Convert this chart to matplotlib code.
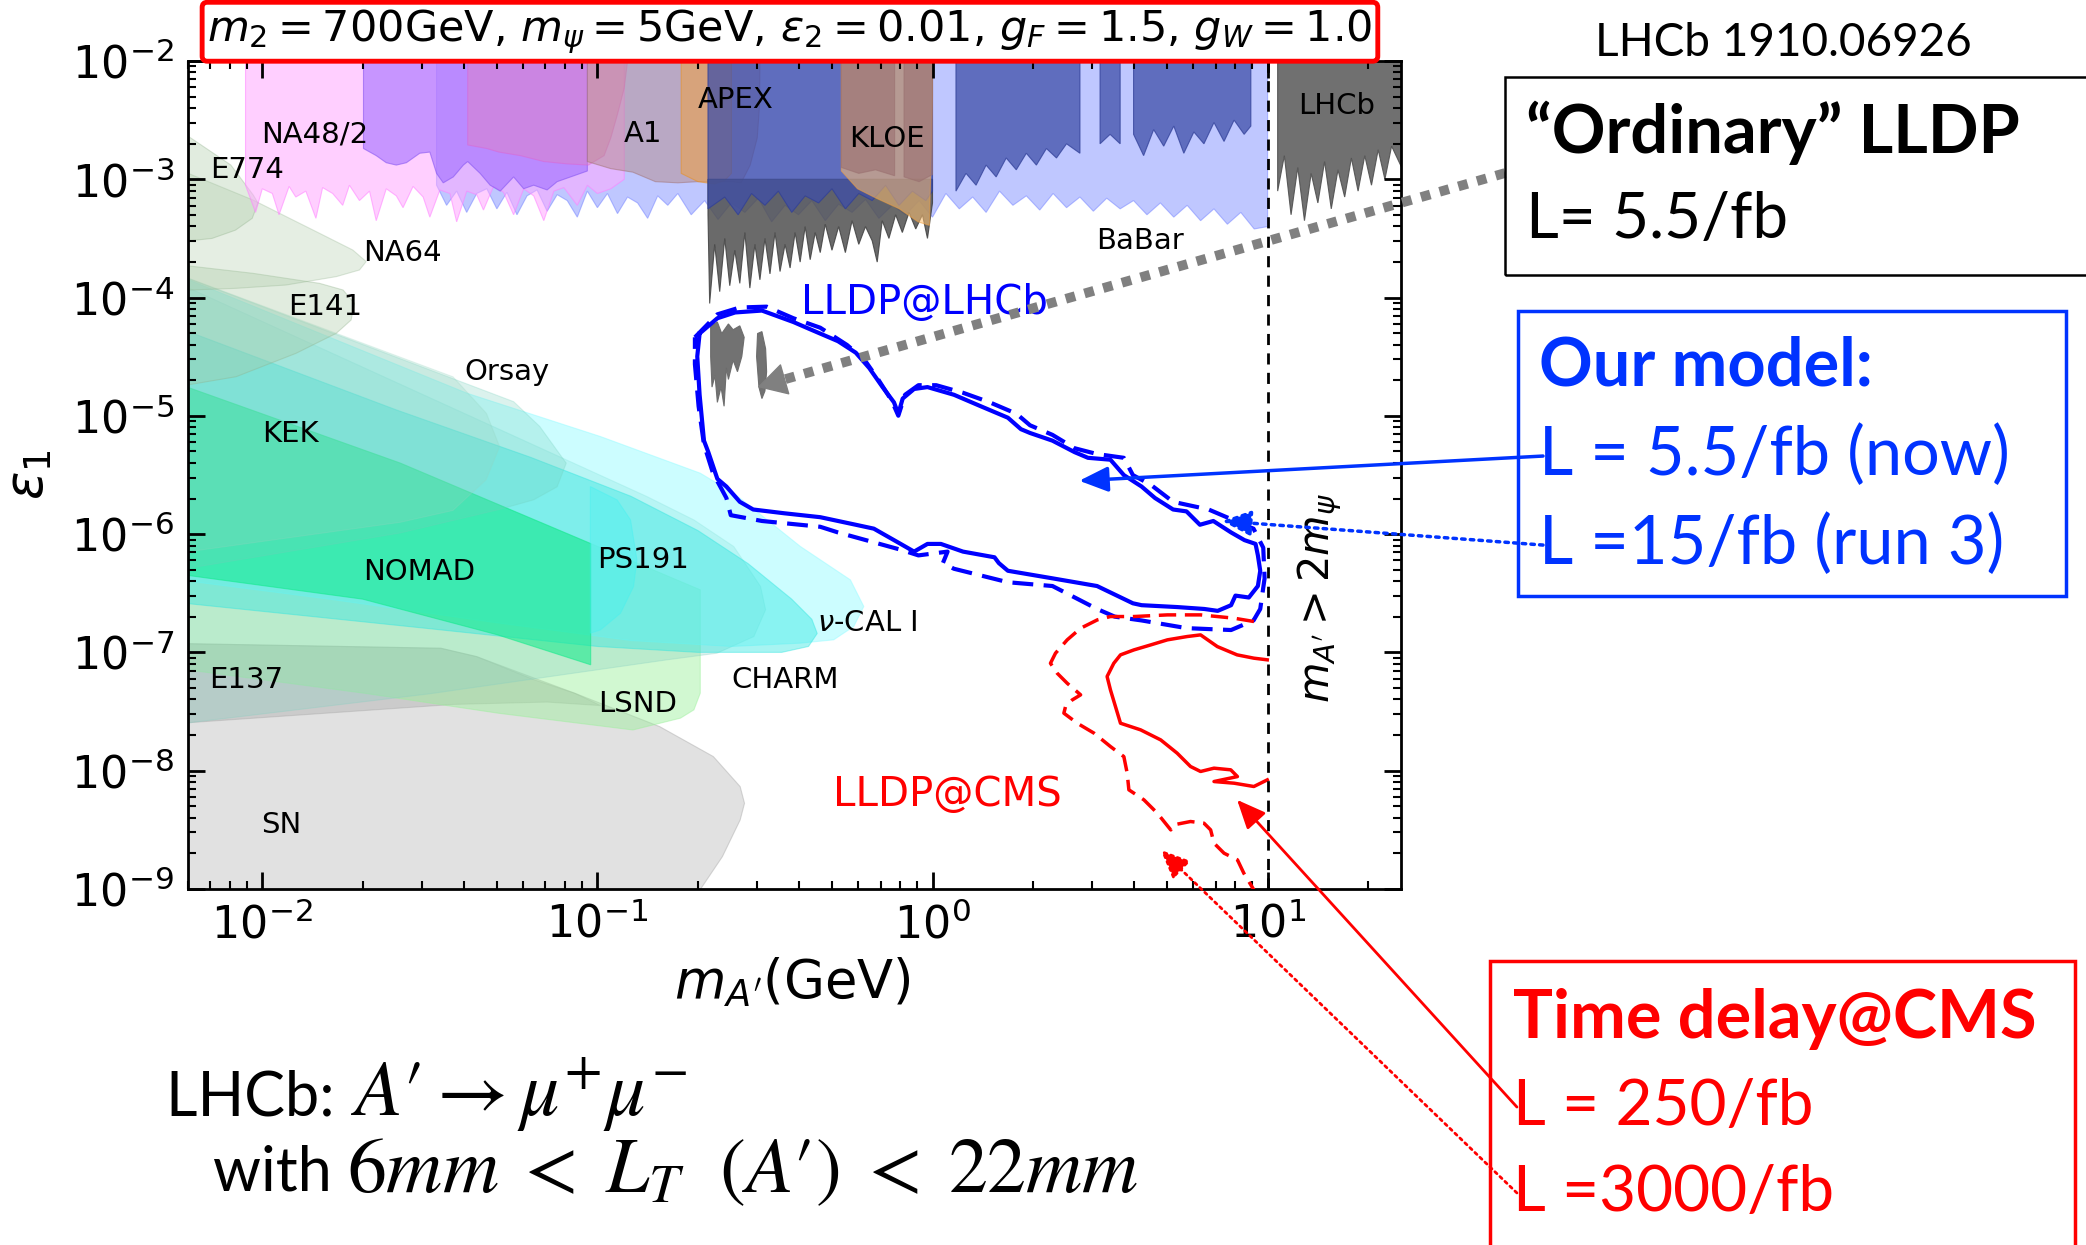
import matplotlib

matplotlib.use("Agg")

import matplotlib.pyplot as plt  # noqa: E402
import numpy as np  # noqa: E402
from matplotlib.patches import Rectangle  # noqa: E402

plt.rcParams["font.family"] = ["DejaVu Sans"]
plt.rcParams["mathtext.fontset"] = "dejavusans"

# every shape is a list of (log10 m_A'/GeV, log10 eps_1)
TOP = -1.9

# ---- e+e- / fixed target limits (filled from the top of the frame) ----
na48_bottom = [(-2.05, -3.05), (-2.02, -3.28), (-2.00, -3.08), (-1.97, -3.12), (-1.95, -3.30),
               (-1.92, -3.06), (-1.90, -3.15), (-1.87, -3.10), (-1.84, -3.33), (-1.82, -3.07),
               (-1.79, -3.12), (-1.76, -3.22), (-1.74, -3.05), (-1.71, -3.18), (-1.68, -3.10),
               (-1.66, -3.35), (-1.63, -3.08), (-1.60, -3.14), (-1.58, -3.24), (-1.55, -3.06),
               (-1.52, -3.15), (-1.50, -3.32), (-1.47, -3.09), (-1.44, -3.12), (-1.42, -3.36),
               (-1.39, -3.10), (-1.36, -3.13), (-1.34, -3.26), (-1.31, -3.06), (-1.28, -3.11),
               (-1.25, -3.30), (-1.22, -3.08), (-1.19, -3.14), (-1.16, -3.35), (-1.13, -3.10),
               (-1.10, -3.07), (-1.06, -3.22), (-1.03, -3.05), (-1.00, -3.12), (-0.96, -3.08),
               (-0.92, -3.00)]
purple_bottom = [(-1.698, -2.74), (-1.66, -2.80), (-1.63, -2.86), (-1.60, -2.88), (-1.57, -2.86),
                 (-1.53, -2.78), (-1.50, -2.77), (-1.48, -2.95), (-1.46, -3.03), (-1.43, -2.98),
                 (-1.40, -2.88), (-1.387, -2.85), (-1.35, -2.95), (-1.32, -3.05), (-1.29, -3.10),
                 (-1.25, -2.98), (-1.22, -3.08), (-1.19, -3.05), (-1.15, -3.09), (-1.12, -3.02),
                 (-1.08, -2.98), (-1.03, -2.93)]
orchid_bottom = [(-1.387, -2.71), (-1.33, -2.74), (-1.294, -2.77), (-1.23, -2.80), (-1.16, -2.85),
                 (-1.09, -2.87), (-1.027, -2.88), (-0.98, -2.80), (-0.96, -2.65), (-0.94, -2.45),
                 (-0.92, -2.23), (-0.91, -2.00)]
a1_bottom = [(-1.03, -2.85), (-0.96, -2.91), (-0.894, -2.94), (-0.827, -3.02), (-0.76, -3.03),
             (-0.70, -3.02), (-0.64, -3.02), (-0.60, -3.02), (-0.571, -3.03), (-0.544, -2.88),
             (-0.523, -2.65), (-0.516, -2.37), (-0.515, -2.00)]
apex_bottom = [(-0.75, -2.95), (-0.70, -3.02), (-0.65, -3.04), (-0.62, -3.01), (-0.60, -2.95),
               (-0.60, -2.00)]
kloe_bottom = [(-0.272, -2.93), (-0.224, -3.08), (-0.168, -3.16), (-0.099, -3.25), (-0.043, -3.36),
               (-0.009, -3.39), (0.0, -2.30)]
kloe_strip1 = [(-0.272, -2.90), (-0.22, -2.95), (-0.17, -2.92), (-0.113, -2.97)]
kloe_strip2 = [(-0.085, -2.98), (-0.04, -3.02), (0.0, -2.96)]
babar_light_bottom = [(-1.48, -3.05), (-1.45, -3.22), (-1.42, -3.10), (-1.39, -3.28), (-1.36, -3.12),
                      (-1.33, -3.08), (-1.30, -3.25), (-1.27, -3.11), (-1.24, -3.30), (-1.21, -3.14),
                      (-1.18, -3.09), (-1.15, -3.27), (-1.12, -3.13), (-1.09, -3.18), (-1.06, -3.32),
                      (-1.03, -3.10), (-1.00, -3.24), (-0.97, -3.12), (-0.94, -3.29), (-0.91, -3.15),
                      (-0.88, -3.20), (-0.85, -3.33), (-0.82, -3.14), (-0.79, -3.22), (-0.76, -3.12),
                      (-0.72, -3.30), (-0.68, -3.18), (-0.64, -3.34), (-0.60, -3.20), (-0.56, -3.28),
                      (-0.52, -3.16), (-0.48, -3.36), (-0.44, -3.22), (-0.40, -3.30), (-0.36, -3.18),
                      (-0.32, -3.35), (-0.28, -3.21), (-0.24, -3.28), (-0.20, -3.17), (-0.16, -3.33),
                      (-0.12, -3.22), (-0.08, -3.30), (-0.04, -3.18), (0.00, -3.32), (0.04, -3.12),
                      (0.08, -3.25), (0.12, -3.15), (0.16, -3.28), (0.20, -3.10), (0.24, -3.22),
                      (0.28, -3.14), (0.32, -3.26), (0.36, -3.12), (0.40, -3.24), (0.44, -3.15),
                      (0.48, -3.27), (0.52, -3.16), (0.56, -3.25), (0.60, -3.18), (0.64, -3.30),
                      (0.68, -3.20), (0.72, -3.32), (0.76, -3.22), (0.80, -3.35), (0.84, -3.25),
                      (0.88, -3.38), (0.92, -3.28), (0.96, -3.42), (1.00, -3.40)]
babar_dark_segments = [
    [(-0.67, -3.25), (-0.62, -3.15), (-0.58, -3.30), (-0.54, -3.12), (-0.50, -3.22), (-0.46, -3.10),
     (-0.42, -3.28), (-0.38, -3.14), (-0.34, -3.20), (-0.30, -3.08), (-0.26, -3.25), (-0.22, -3.12),
     (-0.18, -3.18), (-0.14, -3.05), (-0.10, -3.22), (-0.06, -3.10), (-0.02, -3.18), (0.0, -3.10)],
    [(0.07, -3.10), (0.10, -2.95), (0.13, -3.05), (0.16, -2.88), (0.19, -2.98), (0.22, -2.82),
     (0.25, -2.92), (0.28, -2.78), (0.31, -2.88), (0.34, -2.74), (0.37, -2.82), (0.40, -2.70),
     (0.44, -2.78)],
    [(0.50, -2.70), (0.53, -2.62), (0.56, -2.70)],
    [(0.60, -2.62), (0.63, -2.80), (0.66, -2.58), (0.69, -2.72), (0.72, -2.55), (0.75, -2.78),
     (0.78, -2.60), (0.81, -2.70), (0.84, -2.52), (0.87, -2.68), (0.90, -2.50), (0.93, -2.62),
     (0.95, -2.55)],
]
prompt_bottom = [(-0.67, -3.30), (-0.665, -4.05), (-0.65, -3.55), (-0.635, -3.95), (-0.62, -3.50),
                 (-0.605, -3.90), (-0.59, -3.60), (-0.575, -3.88), (-0.56, -3.45), (-0.545, -3.92),
                 (-0.53, -3.55), (-0.515, -3.85), (-0.50, -3.50), (-0.485, -3.80), (-0.47, -3.45),
                 (-0.455, -3.78), (-0.44, -3.55), (-0.425, -3.75), (-0.41, -3.45), (-0.395, -3.70),
                 (-0.38, -3.40), (-0.365, -3.68), (-0.35, -3.45), (-0.335, -3.62), (-0.32, -3.38),
                 (-0.30, -3.60), (-0.28, -3.40), (-0.26, -3.62), (-0.24, -3.35), (-0.22, -3.55),
                 (-0.20, -3.40), (-0.18, -3.52), (-0.165, -3.70), (-0.15, -3.35), (-0.13, -3.50),
                 (-0.11, -3.30), (-0.09, -3.45), (-0.07, -3.28), (-0.05, -3.42), (-0.03, -3.30),
                 (-0.015, -3.50), (0.0, -3.20)]
lhcb_bottom = [(1.03, -3.10), (1.05, -2.80), (1.07, -3.30), (1.09, -2.90), (1.11, -3.35),
               (1.13, -2.95), (1.15, -3.20), (1.17, -2.85), (1.19, -3.25), (1.21, -2.92),
               (1.23, -3.15), (1.25, -2.82), (1.27, -3.10), (1.29, -2.80), (1.31, -3.05),
               (1.33, -2.75), (1.35, -3.00), (1.37, -2.72), (1.40, -2.90)]
displaced_blob1 = [(-0.662, -4.239), (-0.642, -4.207), (-0.629, -4.304), (-0.609, -4.223),
                   (-0.595, -4.272), (-0.575, -4.239), (-0.562, -4.336), (-0.569, -4.498),
                   (-0.582, -4.627), (-0.595, -4.530), (-0.609, -4.692), (-0.615, -4.595),
                   (-0.622, -4.919), (-0.631, -4.757), (-0.642, -4.886), (-0.649, -4.660),
                   (-0.658, -4.757), (-0.662, -4.498)]
displaced_blob2 = [(-0.522, -4.304), (-0.509, -4.288), (-0.498, -4.433), (-0.495, -4.627),
                   (-0.500, -4.790), (-0.509, -4.854), (-0.518, -4.757), (-0.525, -4.498)]

# ---- beam dump / astrophysics limits ----
e774 = [(-2.35, -2.40), (-2.227, -2.625), (-2.094, -2.879), (-2.027, -3.133), (-2.013, -3.20),
        (-2.03, -3.33), (-2.08, -3.43), (-2.15, -3.50), (-2.35, -3.56)]
na64 = [(-2.35, -2.80), (-2.028, -3.175), (-1.829, -3.457), (-1.730, -3.598), (-1.690, -3.696),
        (-1.710, -3.767), (-1.779, -3.823), (-1.929, -3.894), (-2.078, -3.922), (-2.35, -3.95)]
e141 = [(-2.35, -3.69), (-2.028, -3.795), (-1.829, -3.880), (-1.759, -3.936), (-1.725, -4.049),
        (-1.735, -4.190), (-1.779, -4.302), (-1.899, -4.471), (-2.078, -4.669), (-2.35, -4.80)]
orsay = [(-2.35, -3.70), (-1.431, -4.67), (-1.331, -4.98), (-1.292, -5.26), (-1.332, -5.54),
         (-1.431, -5.80), (-1.588, -5.90), (-2.35, -6.20)]
kek = [(-2.35, -3.70), (-1.25, -4.88), (-1.172, -5.09), (-1.093, -5.40), (-1.12, -5.60),
       (-1.19, -5.71), (-1.29, -5.79), (-1.588, -5.99), (-2.35, -6.35)]
nucal = [(-2.35, -3.70), (-1.389, -4.809), (-0.991, -5.175), (-0.693, -5.485), (-0.593, -5.654),
         (-0.394, -6.105), (-0.245, -6.387), (-0.205, -6.612), (-0.235, -6.781), (-0.295, -6.894),
         (-0.394, -6.922), (-0.60, -6.95), (-0.90, -6.90), (-1.30, -6.75), (-1.80, -6.55),
         (-2.35, -6.35)]
charm = [(-2.35, -3.75), (-0.854, -5.68), (-0.712, -5.88), (-0.593, -6.105), (-0.513, -6.443),
         (-0.498, -6.64), (-0.533, -6.866), (-0.643, -7.007), (-0.792, -7.063), (-1.50, -7.35),
         (-2.35, -7.64)]
aqua = [(-2.35, -4.15), (-1.60, -4.95), (-1.20, -5.35), (-0.90, -5.68), (-0.70, -5.97),
        (-0.55, -6.25), (-0.42, -6.55), (-0.36, -6.72), (-0.344, -6.84), (-0.37, -6.95),
        (-0.45, -7.00), (-0.70, -7.00), (-1.00, -6.95), (-1.50, -6.80), (-2.35, -6.55)]
ps191 = [(-1.021, -5.598), (-0.941, -5.711), (-0.901, -5.88), (-0.882, -6.218), (-0.892, -6.443),
         (-0.931, -6.669), (-0.991, -6.81), (-1.021, -6.838)]
nomad = [(-2.35, -4.63), (-1.588, -5.40), (-1.02, -6.08), (-1.02, -7.105), (-1.30, -6.85),
         (-1.70, -6.55), (-2.35, -6.30)]
lsnd = [(-2.35, -4.63), (-1.588, -5.40), (-0.693, -6.471), (-0.693, -7.345), (-0.712, -7.486),
        (-0.752, -7.556), (-0.894, -7.656), (-1.294, -7.515), (-1.694, -7.346), (-2.35, -7.10)]
e137 = [(-2.35, -6.92), (-1.467, -6.965), (-1.36, -7.036), (-1.19, -7.23), (-1.067, -7.346),
        (-0.99, -7.45), (-1.15, -7.42), (-1.43, -7.44), (-2.35, -7.62)]
sn = [(-2.35, -6.92), (-1.467, -6.965), (-1.36, -7.036), (-1.067, -7.346), (-0.814, -7.628),
      (-0.654, -7.881), (-0.574, -8.135), (-0.561, -8.276), (-0.574, -8.417), (-0.627, -8.727),
      (-0.694, -9.009), (-0.75, -9.30), (-2.35, -9.30)]

# ---- our reach ----
lhcb_now = [(-0.695, -4.304), (-0.642, -4.175), (-0.589, -4.126), (-0.509, -4.110), (-0.415, -4.207),
            (-0.362, -4.272), (-0.282, -4.369), (-0.229, -4.466), (-0.189, -4.595), (-0.149, -4.757),
            (-0.115, -4.886), (-0.102, -4.983), (-0.089, -4.854), (-0.055, -4.773), (-0.015, -4.757),
            (0.064, -4.822), (0.144, -4.919), (0.225, -5.016), (0.264, -5.113), (0.291, -5.145),
            (0.358, -5.210), (0.424, -5.307), (0.464, -5.355), (0.531, -5.371), (0.571, -5.501),
            (0.624, -5.598), (0.664, -5.695), (0.718, -5.792), (0.758, -5.808), (0.798, -5.921),
            (0.838, -5.889), (0.891, -5.986), (0.931, -6.051), (0.964, -6.083), (0.971, -6.180),
            (0.978, -6.310), (0.971, -6.439), (0.944, -6.536), (0.904, -6.520), (0.891, -6.601),
            (0.851, -6.649), (0.811, -6.633), (0.731, -6.617), (0.624, -6.601), (0.598, -6.585),
            (0.491, -6.439), (0.358, -6.374), (0.225, -6.310), (0.198, -6.245), (0.185, -6.196),
            (0.091, -6.148), (0.025, -6.083), (-0.015, -6.083), (-0.055, -6.148), (-0.095, -6.083),
            (-0.175, -5.954), (-0.229, -5.921), (-0.335, -5.857), (-0.442, -5.824), (-0.535, -5.792),
            (-0.575, -5.727), (-0.615, -5.598), (-0.642, -5.533), (-0.669, -5.307), (-0.682, -5.210),
            (-0.695, -4.822), (-0.702, -4.498), (-0.695, -4.304)]
lhcb_run3 = [(-0.709, -4.336), (-0.642, -4.142), (-0.575, -4.084), (-0.495, -4.077), (-0.415, -4.175),
             (-0.335, -4.255), (-0.255, -4.401), (-0.202, -4.530), (-0.162, -4.692), (-0.122, -4.870),
             (-0.102, -4.999), (-0.082, -4.822), (-0.042, -4.741), (0.011, -4.741), (0.091, -4.805),
             (0.171, -4.886), (0.251, -4.983), (0.291, -5.080), (0.358, -5.161), (0.424, -5.274),
             (0.491, -5.323), (0.571, -5.355), (0.598, -5.501), (0.651, -5.582), (0.718, -5.727),
             (0.824, -5.792), (0.891, -5.873), (0.958, -5.954), (0.987, -6.115), (0.991, -6.374),
             (0.978, -6.633), (0.958, -6.730), (0.891, -6.811), (0.758, -6.795), (0.624, -6.730),
             (0.544, -6.698), (0.491, -6.633), (0.358, -6.439), (0.225, -6.407), (0.064, -6.293),
             (0.031, -6.245), (0.045, -6.148), (-0.042, -6.180), (-0.095, -6.132), (-0.282, -5.986),
             (-0.335, -5.938), (-0.509, -5.889), (-0.602, -5.840), (-0.615, -5.695), (-0.655, -5.485),
             (-0.682, -5.242), (-0.698, -4.919), (-0.709, -4.563), (-0.709, -4.336)]
cms_250 = [(0.999, -7.063), (0.959, -7.049), (0.909, -7.021), (0.850, -6.951), (0.800, -6.852),
           (0.760, -6.866), (0.701, -6.894), (0.651, -6.937), (0.601, -6.979), (0.561, -7.021),
           (0.541, -7.092), (0.521, -7.204), (0.531, -7.317), (0.546, -7.458), (0.561, -7.599),
           (0.621, -7.655), (0.681, -7.740), (0.730, -7.852), (0.770, -7.965), (0.800, -8.007),
           (0.840, -7.979), (0.890, -7.993), (0.910, -8.050), (0.840, -8.092), (0.900, -8.106),
           (0.959, -8.134), (0.999, -8.078)]
cms_3000 = [(0.959, -6.739), (0.900, -6.711), (0.800, -6.683), (0.701, -6.683), (0.601, -6.697),
            (0.531, -6.697), (0.492, -6.725), (0.442, -6.796), (0.402, -6.894), (0.367, -7.007),
            (0.352, -7.092), (0.372, -7.176), (0.402, -7.261), (0.442, -7.359), (0.417, -7.402),
            (0.397, -7.458), (0.392, -7.514), (0.432, -7.599), (0.482, -7.683), (0.531, -7.796),
            (0.571, -7.881), (0.581, -8.022), (0.586, -8.162), (0.631, -8.247), (0.671, -8.360),
            (0.711, -8.501), (0.720, -8.458), (0.770, -8.430), (0.810, -8.444), (0.830, -8.501),
            (0.840, -8.613), (0.870, -8.698), (0.910, -8.754), (0.929, -8.867), (0.959, -9.008)]

# region labels: (text, log10 m, log10 eps)
region_labels = [("NA48/2", -1.845, -2.62), ("E774", -2.044, -2.92), ("A1", -0.865, -2.62),
                 ("APEX", -0.587, -2.33), ("KLOE", -0.135, -2.66), ("LHCb", 1.206, -2.38),
                 ("NA64", -1.583, -3.62), ("BaBar", 0.619, -3.52), ("E141", -1.813, -4.08),
                 ("Orsay", -1.27, -4.63), ("KEK", -1.917, -5.15), ("NOMAD", -1.532, -6.32),
                 ("PS191", -0.865, -6.22), (r"$\nu$-CAL I", -0.194, -6.75), ("E137", -2.048, -7.23),
                 ("CHARM", -0.44, -7.23), ("LSND", -0.881, -7.44), ("SN", -1.944, -8.46)]


def loglog(pts):
    a = np.asarray(pts, dtype=float)
    return 10 ** a[:, 0], 10 ** a[:, 1]


def from_top(bottom, top=TOP):
    return [(bottom[0][0], top)] + list(bottom) + [(bottom[-1][0], top)]


fig = plt.figure(figsize=(20.86, 12.45), dpi=100)
ax = fig.add_axes([0.0901, 0.286, 0.5815, 0.665])
ax.set_xscale("log")
ax.set_yscale("log")
ax.set_xlim(0.006, 25)
ax.set_ylim(1e-9, 1e-2)


def shade(pts, fc, alpha, ec=None, lw=0.8, z=1):
    x, y = loglog(pts)
    ax.fill(x, y, fc=fc, alpha=alpha, ec=ec if ec else fc, lw=lw, zorder=z)


# beam dumps, drawn back to front
shade(sn, "#c4c4c4", 0.5, ec="#b0b0b0")
shade(e137, "#9a9a9a", 0.3)
shade(lsnd, "#9af09a", 0.45)
shade(charm, "#86cfc2", 0.30)
shade(nucal, "#8ffcff", 0.45)
shade(aqua, "#2ee6e0", 0.42)
shade(nomad, "#10ea8a", 0.55)
shade(ps191, "#3ff2f2", 0.35)
shade(kek, "#72cfba", 0.25)
shade(orsay, "#94d5c0", 0.25)
shade(e141, "#a9c9a4", 0.35, ec="#8fb08a")
shade(na64, "#a9c9a4", 0.30, ec="#8fb08a")
shade(e774, "#a9c9a4", 0.35, ec="#8fb08a")

# colliders / fixed target
shade(from_top(babar_light_bottom), "#8090ff", 0.50, ec="#7080ff")
shade(from_top(na48_bottom), "#ffa8ff", 0.55, ec="#ff80ff")
shade(from_top(purple_bottom), "#9a66ff", 0.55, ec="#8050f0")
shade(from_top(orchid_bottom), "#e080c0", 0.45, ec="#e060d0")
shade(from_top(a1_bottom), "#b58a8a", 0.50, ec="#a07070")
shade(from_top(apex_bottom), "#f0a040", 0.55, ec="#e89020")
shade([(-0.67, -3.0)] + prompt_bottom + [(0.0, -3.0)], "#505050", 0.85, ec="#404040")
for seg in babar_dark_segments:
    shade(from_top(seg), "#3f4fa8", 0.75, ec="#303f98")
shade(from_top(kloe_bottom), "#ffc070", 0.55, ec="#f0a040")
shade(from_top(kloe_strip1), "#9a7070", 0.60)
shade(from_top(kloe_strip2), "#9a7070", 0.60)
shade([(1.03, TOP)] + lhcb_bottom + [(1.45, -2.90), (1.45, TOP)], "#606060", 0.9, ec="#505050")
shade(displaced_blob1, "#6a6a6a", 0.95, z=2)
shade(displaced_blob2, "#6a6a6a", 0.95, z=2)

# reach contours
ax.plot(*loglog(lhcb_now), color="#0000ff", lw=3, zorder=5)
ax.plot(*loglog(lhcb_run3), color="#0000ff", lw=3, ls=(0, (5, 2.5)), zorder=5)
ax.plot(*loglog(cms_250), color="#ff0000", lw=2.5, zorder=5)
ax.plot(*loglog(cms_3000), color="#ff0000", lw=2.5, ls=(0, (5, 2.5)), zorder=5)
ax.axvline(10, color="black", lw=2, ls=(0, (4, 3)), zorder=5)

for text, lx, ly in region_labels:
    ax.text(10 ** lx, 10 ** ly, text, ha="center", va="center", fontsize=21, zorder=6)
ax.text(10 ** -0.025, 10 ** -4.05, "LLDP@LHCb", color="#0000ff", fontsize=29,
        ha="center", va="center", zorder=6)
ax.text(10 ** 0.044, 10 ** -8.21, "LLDP@CMS", color="#ff0000", fontsize=29,
        ha="center", va="center", zorder=6)
ax.text(10 ** 1.155, 10 ** -6.54, r"$m_{A'}>2m_{\psi}$", rotation=90, fontsize=30,
        ha="center", va="center", zorder=6)

ax.set_xlabel(r"$m_{A'}$(GeV)", fontsize=38)
ax.set_ylabel(r"$\varepsilon_1$", fontsize=38)
ax.xaxis.set_label_coords(0.498, -0.08)
ax.yaxis.set_label_coords(-0.11, 0.5)
ax.tick_params(which="both", direction="in", top=True, right=True, labelsize=32)
ax.tick_params(which="major", length=12, width=2, pad=10)
ax.tick_params(which="minor", length=6, width=1.5)
for sp in ax.spines.values():
    sp.set_linewidth(2)

fig.text(0.3787, 0.9745,
         r"$m_2=700$GeV, $m_{\psi}=5$GeV, $\varepsilon_2=0.01$, $g_F=1.5$, $g_W=1.0$",
         fontsize=31, ha="center", va="center",
         bbox=dict(boxstyle="round,pad=0.12", fc="white", ec="#ff0000", lw=3.5))

# annotation panel on the right
side = ["Lato", "DejaVu Sans"]
fig.text(0.8547, 0.9655, "LHCb 1910.06926", fontsize=33, family=side, ha="center", va="center")
fig.add_artist(Rectangle((0.7215, 0.7791), 0.30, 0.1591, transform=fig.transFigure,
                         fill=False, ec="black", lw=1.8))
fig.text(0.7315, 0.8932, "\u201cOrdinary\u201d LLDP", fontsize=48, weight="bold", family=side,
         va="center")
fig.text(0.7315, 0.8233, "L= 5.5/fb", fontsize=46, family=side, va="center")

blue = "#0033ff"
fig.add_artist(Rectangle((0.7277, 0.5213), 0.2627, 0.2289, transform=fig.transFigure,
                         fill=False, ec=blue, lw=2.5))
fig.text(0.7378, 0.706, "Our model:", fontsize=48, weight="bold", family=side, color=blue,
         va="center")
fig.text(0.7378, 0.6337, "L = 5.5/fb (now)", fontsize=48, family=side, color=blue, va="center")
fig.text(0.7378, 0.5622, "L =15/fb (run 3)", fontsize=48, family=side, color=blue, va="center")

red = "#ff0000"
fig.add_artist(Rectangle((0.7143, -0.02), 0.2804, 0.2481, transform=fig.transFigure,
                         fill=False, ec=red, lw=2.5))
fig.text(0.7253, 0.1815, "Time delay@CMS", fontsize=48, weight="bold", family=side, color=red,
         va="center")
fig.text(0.7253, 0.1108, "L = 250/fb", fontsize=46, family=side, color=red, va="center")
fig.text(0.7253, 0.0418, "L =3000/fb", fontsize=46, family=side, color=red, va="center")

# LHCb search note: plain words in the side font, the formula in a serif math font;
# the lead text's box bottom sits one descent below its baseline, hence the 7 pt lift
lead1 = fig.text(0.0797, 0.1044, "LHCb: ", fontsize=44, family=side, va="baseline")
ax.annotate(r"$A\prime \rightarrow \mu^{+}\mu^{-}$", xy=(1, 0), xycoords=lead1,
            xytext=(0, 7), textcoords="offset points",
            va="baseline", fontsize=56, math_fontfamily="stix", annotation_clip=False)
lead2 = fig.text(0.1020, 0.0434, "with ", fontsize=44, family=side, va="baseline")
ax.annotate(r"$6mm\;<\;L_T\ \ (A\prime)\;<\;22mm$", xy=(1, 0), xycoords=lead2,
            xytext=(0, 7), textcoords="offset points",
            va="baseline", fontsize=56, math_fontfamily="stix", annotation_clip=False)

# pointers from the panel to the curves
blue_red_arrows = [((0.7397, 0.6337), (0.438, -5.549), blue, 2.5, "-"),
                   ((0.7397, 0.5622), (0.864, -5.889), blue, 2.5, (0, (1, 1.5))),
                   ((0.7272, 0.1108), (0.909, -8.247), red, 2.0, "-"),
                   ((0.7272, 0.0418), (0.681, -8.670), red, 2.0, (0, (1, 1.5)))]
for start, (lx, ly), col, lw, ls in blue_red_arrows:
    ax.annotate("", xy=(10 ** lx, 10 ** ly), xycoords="data", xytext=start,
                textcoords="figure fraction", annotation_clip=False, zorder=7,
                arrowprops=dict(arrowstyle="-|>,head_length=0.8,head_width=0.35", color=col,
                                lw=lw, ls=ls, mutation_scale=22, shrinkA=0, shrinkB=0))

# thick grey dotted pointer to the prompt LHCb search
grey_start = (0.7215, 0.861)
grey_end = (-0.522, -4.757)
p0 = fig.transFigure.transform(grey_start)
p1 = ax.transData.transform((10 ** grey_end[0], 10 ** grey_end[1]))
u = (p1 - p0) / np.hypot(*(p1 - p0))
p_head = p1 - 20 * u
d0 = ax.transData.inverted().transform(p0)
d_head = ax.transData.inverted().transform(p_head)
ax.plot([d0[0], d_head[0]], [d0[1], d_head[1]], color="#808080", lw=7,
        ls=(0, (1, 1)), dash_capstyle="butt", clip_on=False, zorder=7)
ax.annotate("", xy=(10 ** grey_end[0], 10 ** grey_end[1]), xycoords="data",
            xytext=(d_head[0], d_head[1]), textcoords="data", annotation_clip=False, zorder=7,
            arrowprops=dict(arrowstyle="-|>,head_length=0.8,head_width=0.45", color="#808080",
                            lw=1, mutation_scale=24, shrinkA=0, shrinkB=0))

fig.savefig("out.png", dpi=100)
plt.close(fig)
